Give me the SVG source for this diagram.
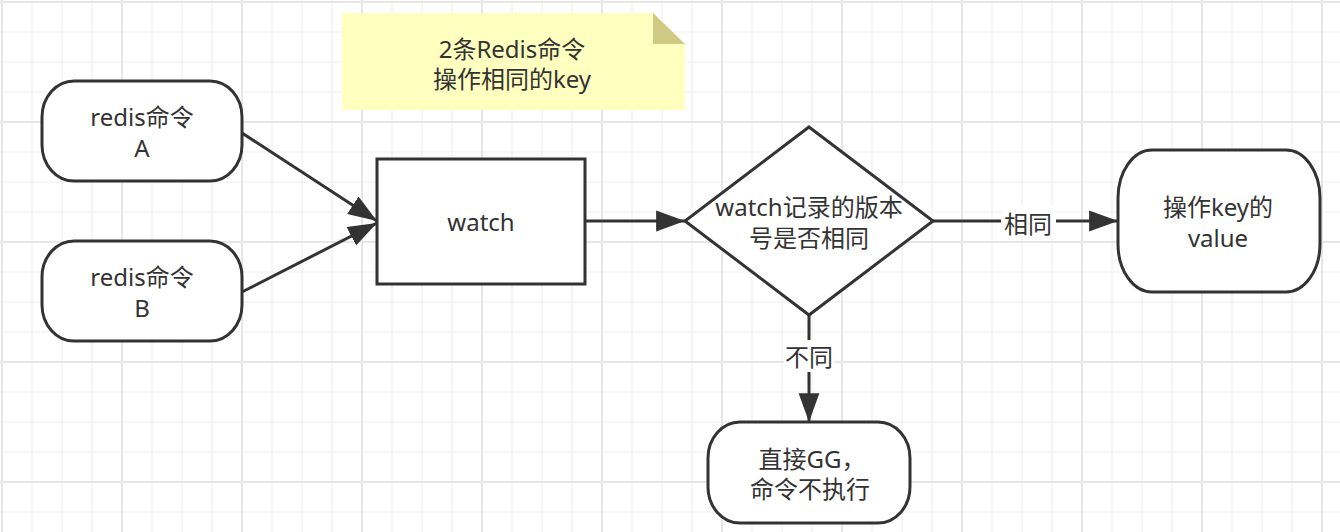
<svg xmlns="http://www.w3.org/2000/svg" width="1340" height="532" viewBox="0 0 1340 532">
<style>
.shape{fill:#fff;stroke:#333;stroke-width:3}
.edge{fill:none;stroke:#333;stroke-width:3}
.t{font-family:"Noto Sans","Noto Sans CJK SC",sans-serif;font-size:24px;fill:#333;text-anchor:middle}
</style>
<defs>
<pattern id="grid" patternUnits="userSpaceOnUse" x="-13" y="-13" width="120" height="120">
<path d="M45 0V120M75 0V120M105 0V120M0 45H120M0 75H120M0 105H120" stroke="#f0f0f0" stroke-width="1.2" fill="none"/>
<path d="M15 0V120M0 15H120" stroke="#e6e6e6" stroke-width="2" fill="none"/>
</pattern>
<marker id="arr" markerUnits="userSpaceOnUse" markerWidth="30" markerHeight="24" viewBox="0 0 26 20" refX="25" refY="10" orient="auto">
<path d="M0 1L25 10L0 19Z" fill="#333"/>
</marker>
</defs>
<rect width="1340" height="532" fill="#fff"/>
<rect width="1340" height="532" fill="url(#grid)"/>

<g id="note">
<path d="M342 13H653L685 44V110H342Z" fill="#ffffc0"/>
<path d="M653 13L685 44H653Z" fill="#cfcb85"/>
<text class="t" x="512" y="58">2条Redis命令</text>
<text class="t" x="512" y="88">操作相同的key</text>
</g>

<g id="connectors">
<line class="edge" x1="242" y1="133" x2="377" y2="221" marker-end="url(#arr)"/>
<line class="edge" x1="242" y1="292" x2="377" y2="223" marker-end="url(#arr)"/>
<line class="edge" x1="585" y1="221" x2="685" y2="221" marker-end="url(#arr)"/>
<line class="edge" x1="933" y1="221" x2="1118" y2="221" marker-end="url(#arr)"/>
<line class="edge" x1="809" y1="315" x2="809" y2="422" marker-end="url(#arr)"/>
<rect x="1001" y="206" width="55" height="32" fill="#fff"/>
<text class="t" x="1028" y="233">相同</text>
<rect x="784" y="340" width="50" height="32" fill="#fff"/>
<text class="t" x="809" y="366">不同</text>
</g>

<g id="cmdA">
<rect class="shape" x="42" y="81" width="200" height="100" rx="32" ry="36"/>
<text class="t" x="142" y="126">redis命令</text>
<text class="t" x="142" y="157">A</text>
</g>

<g id="cmdB">
<rect class="shape" x="42" y="241" width="200" height="100" rx="32" ry="36"/>
<text class="t" x="142" y="286">redis命令</text>
<text class="t" x="142" y="317">B</text>
</g>

<g id="watch">
<rect class="shape" x="377" y="159" width="208" height="125"/>
<text class="t" x="481" y="231">watch</text>
</g>

<g id="decision">
<path class="shape" d="M809 127L933 221L809 315L685 221Z"/>
<text class="t" x="809" y="216">watch记录的版本</text>
<text class="t" x="809" y="247">号是否相同</text>
</g>

<g id="operate">
<rect class="shape" x="1118" y="150" width="202" height="142" rx="34" ry="48"/>
<text class="t" x="1218" y="216">操作key的</text>
<text class="t" x="1218" y="247">value</text>
</g>

<g id="abort">
<rect class="shape" x="708" y="422" width="202" height="101" rx="32" ry="36"/>
<text class="t" x="812" y="468">直接GG，</text>
<text class="t" x="810" y="498">命令不执行</text>
</g>
</svg>
